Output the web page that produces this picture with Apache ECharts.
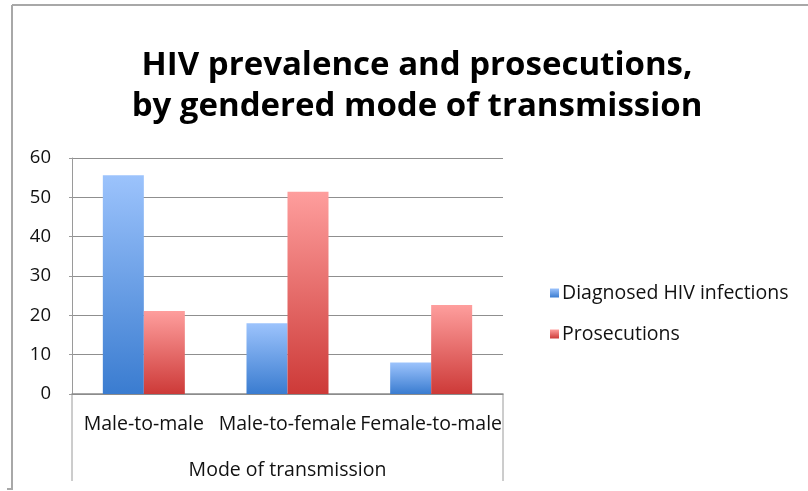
<!DOCTYPE html>
<html>
<head>
<meta charset="utf-8">
<script src="https://cdn.jsdelivr.net/npm/echarts@6/dist/echarts.min.js"></script>
<style>html,body{margin:0;padding:0;background:#fff;}#c{width:808px;height:491px;}</style>
</head>
<body>
<div id="c"></div>
<script>
var categories = ['Male-to-male', 'Male-to-female', 'Female-to-male'];
var diagnosed = [55.6, 18.0, 8.0];
var prosecutions = [21.1, 51.4, 22.6];
var yTicks = [0, 10, 20, 30, 40, 50, 60];

var chart = echarts.init(document.getElementById('c'));
var FONT = 'Open Sans';
function grad(top, bottom) {
  return {type: 'linear', x: 0, y: 0, x2: 0, y2: 1, colorStops: [{offset: 0, color: top}, {offset: 1, color: bottom}]};
}
chart.setOption({
  animation: false,
  title: {
    text: 'HIV prevalence and prosecutions,\nby gendered mode of transmission',
    left: 412, top: 40, textAlign: 'center',
    textStyle: {fontFamily: FONT, fontWeight: 'bold', fontSize: 33, lineHeight: 41, color: '#000'}
  },
  legend: {
    orient: 'vertical', left: 545, top: 278,
    itemWidth: 9, itemHeight: 9, itemGap: 21,
    icon: 'rect',
    textStyle: {fontFamily: FONT, fontSize: 19.5, color: '#111', padding: [0, 0, 0, -2]},
    data: ['Diagnosed HIV infections', 'Prosecutions']
  },
  grid: {left: 72, right: 305, top: 158, bottom: 97, containLabel: false},
  xAxis: {
    type: 'category', data: categories,
    name: 'Mode of transmission', nameLocation: 'middle', nameGap: 66,
    nameTextStyle: {fontFamily: FONT, fontSize: 19.5, color: '#111'},
    axisLine: {lineStyle: {color: '#8c8c8c', width: 1.5}},
    axisTick: {show: false},
    axisLabel: {fontFamily: FONT, fontSize: 19.5, color: '#111', margin: 20, interval: 0}
  },
  yAxis: {
    type: 'value', min: 0, max: 60, interval: 10,
    axisLine: {show: true, lineStyle: {color: '#9a9a9a'}},
    axisTick: {show: true, length: 3, lineStyle: {color: '#9a9a9a'}},
    splitLine: {lineStyle: {color: '#8f8f8f', width: 1}},
    axisLabel: {fontFamily: FONT, fontSize: 18.5, color: '#111', margin: 21,
      formatter: function (v) { return yTicks.indexOf(v) >= 0 ? String(v) : ''; }}
  },
  series: [
    {name: 'Diagnosed HIV infections', type: 'bar', data: diagnosed, barWidth: 41, barGap: '0%',
      itemStyle: {color: grad('#9cc3fc', '#3a7cd0')}},
    {name: 'Prosecutions', type: 'bar', data: prosecutions, barWidth: 41,
      itemStyle: {color: grad('#fe9e9d', '#cd3a38')}}
  ],
  graphic: [
    {type: 'line', shape: {x1: 12, y1: 5, x2: 808, y2: 5}, style: {stroke: '#a8a8a8', lineWidth: 2}},
    {type: 'line', shape: {x1: 12, y1: 5, x2: 12, y2: 489}, style: {stroke: '#a8a8a8', lineWidth: 2}},
    {type: 'line', shape: {x1: 7, y1: 489, x2: 13, y2: 489}, style: {stroke: '#a8a8a8', lineWidth: 2}},
    {type: 'line', shape: {x1: 72, y1: 394, x2: 72, y2: 481}, style: {stroke: '#9a9a9a', lineWidth: 1}},
    {type: 'line', shape: {x1: 503, y1: 394, x2: 503, y2: 481}, style: {stroke: '#9a9a9a', lineWidth: 1}}
  ]
});
</script>
</body>
</html>
